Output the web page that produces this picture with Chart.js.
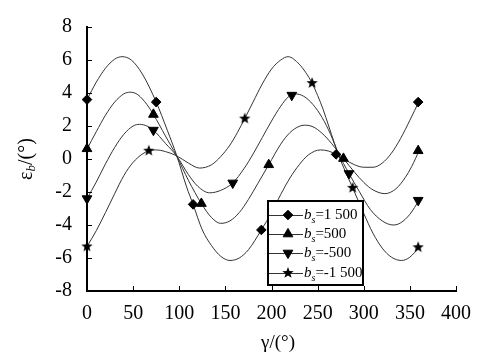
<!DOCTYPE html>
<html><head><meta charset="utf-8">
<script src="https://cdn.jsdelivr.net/npm/chart.js@4.4.0/dist/chart.umd.min.js"></script>
<style>html,body{margin:0;padding:0;background:#fff;}</style>
</head><body>
<canvas id="c" width="487" height="360"></canvas>
<script>
// ---- data ----
const xTicks = [0, 50, 100, 150, 200, 250, 300, 350, 400];
const yTicks = [-8, -6, -4, -2, 0, 2, 4, 6, 8];
const seriesNames = ['1 500', '500', '-500', '-1 500'];

// curves
const gamma1500 = [0,10,20,30,38,48,60,75,87,97,108,115,125,135,145,155,165,175,189,200,210,220,230,240,253,262,270,280,290,300,310,320,330,340,350,360];
const eps1500   = [3.6,4.65,5.5,6.05,6.2,6.0,5.15,3.45,1.75,0.25,-1.7,-2.75,-4.3,-5.25,-5.9,-6.15,-6.0,-5.5,-4.3,-3.25,-2.15,-1.15,-0.35,0.25,0.55,0.48,0.28,-0.05,-0.35,-0.5,-0.5,-0.25,0.35,1.25,2.35,3.5];
const gamma500  = [0,10,20,30,40,47,55,65,72,85,97,110,124,135,145,155,165,175,185,197,210,220,230,236,245,255,265,272,278,290,300,310,323,335,345,352,360];
const eps500    = [0.6,1.65,2.65,3.45,3.95,4.05,3.9,3.3,2.7,1.4,0.2,-1.3,-2.7,-3.55,-3.9,-3.75,-3.25,-2.45,-1.5,-0.35,0.9,1.6,1.98,2.05,1.95,1.55,0.95,0.45,0.03,-0.8,-1.42,-1.87,-2.1,-1.8,-1.12,-0.45,0.5];
const gammaM500 = [0,10,20,30,40,50,57,65,72,85,97,110,120,133,145,158,170,180,190,200,210,218,225,235,245,255,264,272,284,295,307,320,332,340,350,360];
const epsM500   = [-2.4,-1.4,-0.3,0.7,1.5,2.0,2.1,2.0,1.75,0.95,0.2,-0.95,-1.65,-2.05,-1.9,-1.45,-0.6,0.3,1.3,2.3,3.2,3.75,3.95,3.8,3.3,2.5,1.5,0.4,-0.88,-1.95,-3.05,-3.75,-4.0,-3.87,-3.35,-2.5];
const gammaM1500 = [0,10,20,30,40,50,60,67,75,85,97,110,122,135,145,155,163,171,180,190,200,210,218,230,237,244,250,256,262,268,274,280,288,300,310,320,330,341,350,360];
const epsM1500   = [-5.3,-4.35,-3.25,-2.1,-1.0,-0.2,0.3,0.5,0.55,0.45,0.2,-0.25,-0.55,-0.35,0.15,0.85,1.6,2.45,3.45,4.55,5.45,6.0,6.2,5.75,5.25,4.6,3.85,3.0,2.0,1.0,0.05,-0.75,-1.75,-3.3,-4.5,-5.4,-5.95,-6.15,-5.95,-5.35];

// markers
const markG1500 = [0, 75, 115, 189, 270, 359];
const markE1500 = [3.6, 3.45, -2.75, -4.3, 0.28, 3.45];
const markG500  = [0, 72, 124, 197, 278, 359];
const markE500  = [0.62, 2.7, -2.7, -0.35, 0.03, 0.5];
const markGM500 = [0, 72, 158, 222, 284, 359];
const markEM500 = [-2.4, 1.75, -1.45, 3.87, -0.88, -2.5];
const markGM1500 = [0, 67, 171, 244, 288, 359];
const markEM1500 = [-5.3, 0.5, 2.45, 4.6, -1.75, -5.35];

// ---- helpers ----
const pts = (xs, ys) => xs.map((x, i) => ({x, y: ys[i]}));
function starCanvas(r) {
  const s = Math.ceil(r * 2 + 2);
  const c = document.createElement('canvas');
  c.width = c.height = s;
  const g = c.getContext('2d');
  g.fillStyle = '#000';
  g.beginPath();
  for (let i = 0; i < 10; i++) {
    const rr = i % 2 ? r * 0.42 : r;
    const a = -Math.PI / 2 + i * Math.PI / 5;
    g.lineTo(s / 2 + rr * Math.cos(a), s / 2 + rr * Math.sin(a));
  }
  g.closePath(); g.fill();
  return c;
}
const STAR = starCanvas(6);
const markerStyles = [
  {pointStyle: 'rectRot', radius: 4.8, rotation: 0},
  {pointStyle: 'triangle', radius: 5.6, rotation: 0},
  {pointStyle: 'triangle', radius: 5.6, rotation: 180},
  {pointStyle: STAR, radius: 6, rotation: 0}
];
const curveSets = [[gamma1500, eps1500], [gamma500, eps500], [gammaM500, epsM500], [gammaM1500, epsM1500]];
const markSets = [[markG1500, markE1500], [markG500, markE500], [markGM500, markEM500], [markGM1500, markEM1500]];

const datasets = [];
curveSets.forEach((cs, i) => {
  datasets.push({
    label: 'curve' + i, data: pts(cs[0], cs[1]),
    borderColor: '#333', borderWidth: 1, pointRadius: 0, fill: false,
    cubicInterpolationMode: 'monotone', order: 2
  });
});
markSets.forEach((ms, i) => {
  const st = markerStyles[i];
  datasets.push({
    label: 'mark' + i, data: pts(ms[0], ms[1]), showLine: false,
    pointStyle: st.pointStyle, pointRadius: st.radius, pointRotation: st.rotation,
    pointBackgroundColor: '#000', pointBorderColor: '#000', pointBorderWidth: 1,
    clip: false, order: 1
  });
});

const serif = "'Liberation Serif', 'Times New Roman', serif";

const decor = {
  id: 'decor',
  afterDraw(chart) {
    const {ctx, chartArea: a, scales: {x, y}} = chart;
    ctx.save();
    // inward ticks
    ctx.strokeStyle = '#000'; ctx.lineWidth = 1;
    xTicks.forEach(v => {
      const px = Math.round(x.getPixelForValue(v)) + 0.5;
      ctx.beginPath(); ctx.moveTo(px, a.bottom); ctx.lineTo(px, a.bottom - 5); ctx.stroke();
    });
    yTicks.forEach(v => {
      const py = Math.round(y.getPixelForValue(v)) + 0.5;
      ctx.beginPath(); ctx.moveTo(a.left, py); ctx.lineTo(a.left + 5, py); ctx.stroke();
    });
    // x title
    ctx.fillStyle = '#000';
    ctx.font = '19px ' + serif;
    ctx.textAlign = 'center'; ctx.textBaseline = 'middle';
    ctx.fillText('γ/(°)', 278, 343);
    // y title (rotated)
    ctx.save();
    ctx.translate(27, 159);
    ctx.rotate(-Math.PI / 2);
    ctx.textAlign = 'left';
    const f1 = '20px ' + serif, f2 = 'italic 13px ' + serif;
    ctx.font = f1; const w1 = ctx.measureText('ε').width;
    ctx.font = f2; const w2 = ctx.measureText('b').width;
    ctx.font = f1; const w3 = ctx.measureText('/(°)').width;
    let sx = -(w1 + w2 + w3) / 2;
    ctx.font = f1; ctx.fillText('ε', sx, 0); sx += w1;
    ctx.font = f2; ctx.fillText('b', sx, 5); sx += w2;
    ctx.font = f1; ctx.fillText('/(°)', sx, 0);
    ctx.restore();
    // legend
    const L = 268, T = 201, R = 363, B = 285;
    ctx.fillStyle = '#fff'; ctx.fillRect(L, T, R - L, B - T);
    ctx.strokeStyle = '#000'; ctx.lineWidth = 2;
    ctx.strokeRect(L, T, R - L, B - T);
    const rows = [215, 234, 253, 273];
    seriesNames.forEach((name, i) => {
      const ry = rows[i];
      ctx.strokeStyle = '#333'; ctx.lineWidth = 1;
      ctx.beginPath(); ctx.moveTo(L + 1, ry + 0.5); ctx.lineTo(303, ry + 0.5); ctx.stroke();
      const st = markerStyles[i];
      ctx.fillStyle = '#000'; ctx.strokeStyle = '#000';
      Chart.helpers.drawPoint(ctx, {pointStyle: st.pointStyle, radius: st.radius, rotation: st.rotation, borderWidth: 1}, 288, ry);
      ctx.fillStyle = '#000';
      ctx.textBaseline = 'middle'; ctx.textAlign = 'left';
      let tx = 304;
      ctx.font = 'italic 15px ' + serif; ctx.fillText('b', tx, ry); tx += ctx.measureText('b').width;
      ctx.font = 'italic 10px ' + serif; ctx.fillText('s', tx, ry + 5); tx += ctx.measureText('s').width;
      ctx.font = '15px ' + serif; ctx.fillText('=' + name, tx, ry);
    });
    ctx.restore();
  }
};

new Chart(document.getElementById('c'), {
  type: 'line',
  data: {datasets},
  options: {
    responsive: false, animation: false, devicePixelRatio: 1,
    layout: {padding: {top: 24, right: 31, left: 0, bottom: 0}},
    plugins: {legend: {display: false}, tooltip: {enabled: false}},
    scales: {
      x: {
        type: 'linear', min: 0, max: 400,
        afterBuildTicks: s => { s.ticks = xTicks.map(v => ({value: v})); },
        afterFit: s => { s.height = 69; },
        ticks: {font: {family: serif, size: 20}, color: '#000', padding: 11, maxRotation: 0, autoSkip: false},
        grid: {display: false, drawTicks: false},
        border: {display: true, color: '#000', width: 2}
      },
      y: {
        type: 'linear', min: -8, max: 8,
        afterBuildTicks: s => { s.ticks = yTicks.map(v => ({value: v})); },
        afterFit: s => { s.width = 87; },
        ticks: {font: {family: serif, size: 20}, color: '#000', padding: 15, autoSkip: false},
        grid: {display: false, drawTicks: false},
        border: {display: true, color: '#000', width: 2}
      }
    }
  },
  plugins: [decor]
});
</script>
</body></html>
